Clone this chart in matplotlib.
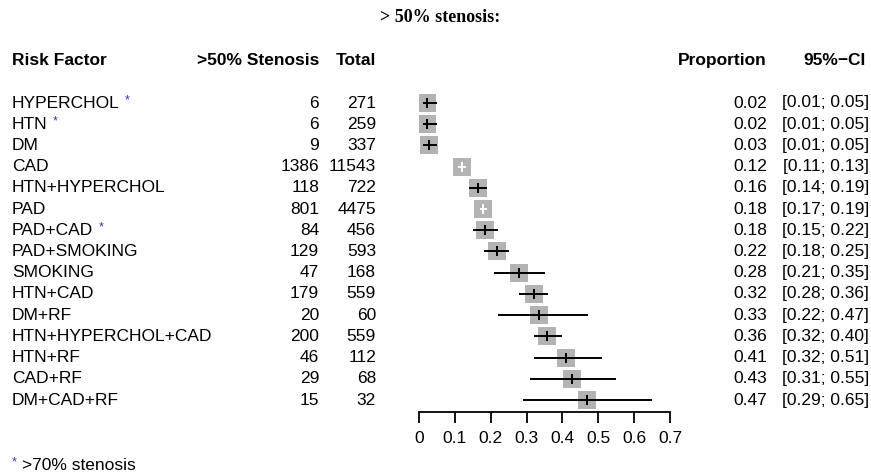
import numpy as np
import matplotlib
matplotlib.use("Agg")
import matplotlib.pyplot as plt
import matplotlib.transforms as mtransforms

plt.rcParams['font.family'] = ['Liberation Sans', 'DejaVu Sans']

# data
factors = ['HYPERCHOL', 'HTN', 'DM', 'CAD', 'HTN+HYPERCHOL', 'PAD', 'PAD+CAD',
           'PAD+SMOKING', 'SMOKING', 'HTN+CAD', 'DM+RF', 'HTN+HYPERCHOL+CAD',
           'HTN+RF', 'CAD+RF', 'DM+CAD+RF']
starred = ['HYPERCHOL', 'HTN', 'PAD+CAD']
events = [6, 6, 9, 1386, 118, 801, 84, 129, 47, 179, 20, 200, 46, 29, 15]
totals = [271, 259, 337, 11543, 722, 4475, 456, 593, 168, 559, 60, 559, 112, 68, 32]
ci_low = [0.01, 0.01, 0.01, 0.11, 0.14, 0.17, 0.15, 0.18, 0.21, 0.28, 0.22, 0.32, 0.32, 0.31, 0.29]
ci_high = [0.05, 0.05, 0.05, 0.13, 0.19, 0.19, 0.22, 0.25, 0.35, 0.36, 0.47, 0.40, 0.51, 0.55, 0.65]
xticks = [0, 0.1, 0.2, 0.3, 0.4, 0.5, 0.6, 0.7]

prop = np.array(events) / np.array(totals)
n = len(factors)
ypos = np.arange(n)[::-1]  # top row gets highest y

W, H = 871, 473
fig = plt.figure(figsize=(W / 100, H / 100), dpi=100)
fig.patch.set_facecolor('white')

# forest plot area: x 0..0.7 spans px 419..670, axis line at px 412
ax = fig.add_axes([419 / W, (H - 412) / H, (670 - 419) / W, (412 - 80) / H])
row_px = (400 - 103) / (n - 1)
ax.set_xlim(0, 0.7)
ax.set_ylim(-12 / row_px, (n - 1) + 23 / row_px)

ax.scatter(prop, ypos, marker='s', s=165, color='#b3b3b3', zorder=2, linewidths=0)
for p, lo, hi, y in zip(prop, ci_low, ci_high, ypos):
    # CI hidden inside the square -> drawn white
    inside = hi - lo < 0.03
    c = 'white' if inside else 'black'
    ax.plot([lo, hi], [y, y], color=c, lw=1.4, zorder=3, solid_capstyle='butt')
    ax.plot([p], [y], marker='|', color=c, markersize=7, mew=1.4, zorder=4)

for s in ['left', 'right', 'top']:
    ax.spines[s].set_visible(False)
ax.spines['bottom'].set_linewidth(1.3)
ax.set_yticks([])
ax.set_xticks(xticks)
ax.set_xticklabels(['0' if t == 0 else f'{t:.1f}' for t in xticks], fontsize=12.5)
ax.tick_params(axis='x', direction='out', length=8, width=1.3, pad=6)
ax.set_facecolor('none')

# text columns: x in figure pixels, y in row coordinates
tr = mtransforms.blended_transform_factory(fig.transFigure, ax.transData)
fs = 12.5
hy = (n - 1) + 42.4 / row_px
ax.text(12 / W, hy, 'Risk Factor', transform=tr, fontsize=fs, fontweight='bold', va='center', ha='left', clip_on=False)
ax.text(319 / W, hy, '>50% Stenosis', transform=tr, fontsize=fs, fontweight='bold', va='center', ha='right', clip_on=False)
ax.text(376 / W, hy, 'Total', transform=tr, fontsize=fs, fontweight='bold', va='center', ha='right', clip_on=False)
ax.text(767 / W, hy, 'Proportion', transform=tr, fontsize=fs, fontweight='bold', va='center', ha='right', clip_on=False)
ax.text(866 / W, hy, '95%\u2212CI', transform=tr, fontsize=fs, fontweight='bold', va='center', ha='right', clip_on=False)

renderer = fig.canvas.get_renderer()
for i, y in enumerate(ypos):
    t = ax.text(12 / W, y, factors[i], transform=tr, fontsize=fs, va='center', ha='left', clip_on=False)
    if factors[i] in starred:
        bb = t.get_window_extent(renderer=renderer)
        ax.text((bb.x1 + 5) / W, y + 0.12, '*', transform=tr, fontsize=9, color='#3333cc',
                va='center', ha='left', clip_on=False)
    ax.text(319 / W, y, str(events[i]), transform=tr, fontsize=fs, va='center', ha='right', clip_on=False)
    ax.text(376 / W, y, str(totals[i]), transform=tr, fontsize=fs, va='center', ha='right', clip_on=False)
    ax.text(767 / W, y, f'{prop[i]:.2f}', transform=tr, fontsize=fs, va='center', ha='right', clip_on=False)
    ax.text(869 / W, y, f'[{ci_low[i]:.2f}; {ci_high[i]:.2f}]', transform=tr, fontsize=fs,
            va='center', ha='right', clip_on=False)

fig.text(440 / W, 1 - 18 / H, '> 50% stenosis:', fontsize=13, family='Liberation Serif',
         fontweight='bold', ha='center', va='center')
fig.text(12 / W, 1 - 462 / H, '*', fontsize=9, color='#3333cc', ha='left', va='center')
fig.text(22 / W, 1 - 465 / H, '>70% stenosis', fontsize=fs, ha='left', va='center')

fig.savefig('out.png', dpi=100)
